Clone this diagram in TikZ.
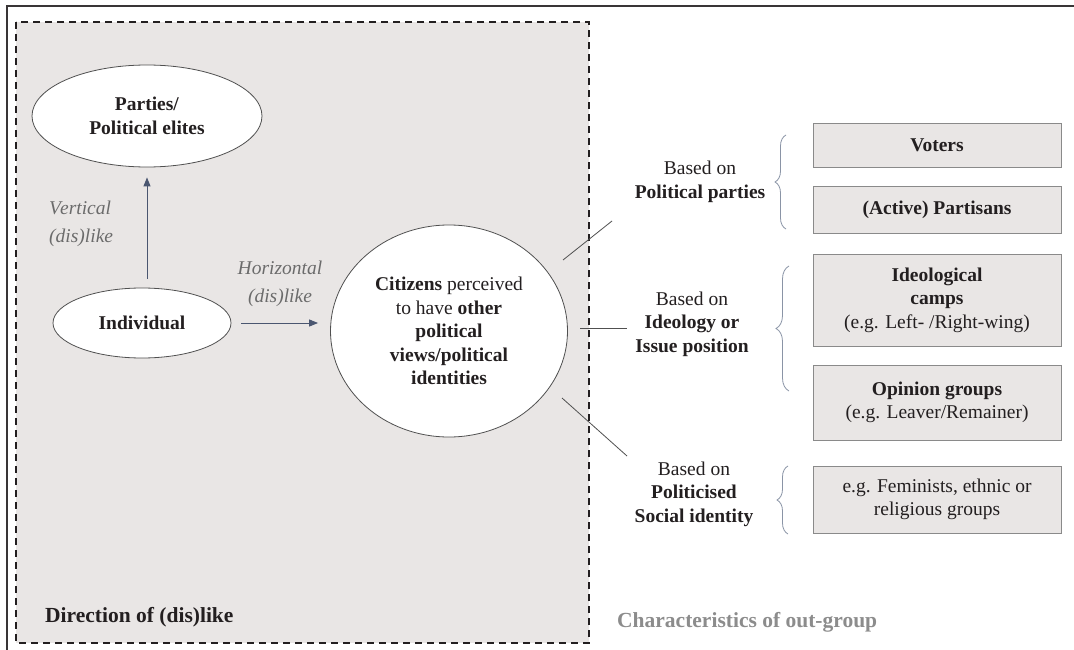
\documentclass[tikz,border=0pt]{standalone}
\usepackage{fontspec}
\setmainfont{Liberation Serif}
\usetikzlibrary{shapes.geometric,decorations.pathreplacing,arrows.meta}
\definecolor{bgray}{HTML}{E9E6E5}
\definecolor{txt}{HTML}{231F20}
\definecolor{arrc}{HTML}{4A5670}
\definecolor{bracec}{HTML}{8A94A6}
\definecolor{linec}{HTML}{505050}
\definecolor{lblgray}{HTML}{6B6B6B}
\definecolor{titlegray}{HTML}{8C8C8C}
\definecolor{boxborder}{HTML}{8A8A8A}
\tikzset{
  base/.style={font=\fontsize{19.5}{23.5}\selectfont, text=txt, align=center, inner sep=0pt},
  oval/.style={base, ellipse, draw=linec, line width=0.8pt, fill=white},
  catbox/.style={base, rectangle, draw=boxborder, line width=0.8pt, fill=bgray, minimum width=248pt},
  arr/.style={draw=arrc, line width=0.9pt, -{Triangle[length=9pt,width=7pt]}},
  conn/.style={draw=linec, line width=0.8pt},
  brc/.style={draw=bracec, line width=0.8pt, decorate, decoration={brace, amplitude=11pt}},
  lbl/.style={base, text=lblgray, font=\fontsize{19.5}{28}\selectfont\itshape},
  title/.style={base, font=\fontsize{21.5}{24}\selectfont\bfseries, anchor=west}
}
\begin{document}
\begin{tikzpicture}[x=1pt,y=-1pt]
\useasboundingbox (0,0) rectangle (1074,650);
\fill[white] (0,0) rectangle (1074,650);
% outer frame (clipped)
\draw[line width=2pt, draw=txt!90] (7,650) -- (7,6) -- (1074,6);
% dashed area
\draw[fill=bgray, draw=txt, line width=1.3pt, dash pattern=on 7pt off 5pt] (16,22) rectangle (589,643);

% nodes left
\node[oval, minimum width=230pt, minimum height=102pt] (parties) at (147,116) {\textbf{Parties/}\\\textbf{Political elites}};
\node[oval, minimum width=178pt, minimum height=70pt] (indiv) at (142,323) {\textbf{Individual}};
\node[oval, minimum width=237pt, minimum height=212pt] (citizens) at (449,331)
  {\textbf{Citizens} perceived\\to have \textbf{other}\\\textbf{political}\\\textbf{views/political}\\\textbf{identities}};

\node[lbl, align=left, anchor=west] (vlab) at (49,224) {V\kern-1pt ertical\\(dis)like};
\node[lbl] (hlab) at (280,284) {Horizontal\\(dis)like};

\draw[arr, shorten <=9pt, shorten >=10pt] (indiv.north -| parties.south) -- (parties.south);
\draw[arr, shorten <=10pt, shorten >=12pt] (indiv.east) -- (indiv.east -| citizens.west);

% labels right
\node[base] (lab1) at (700,182) {Based on\\\textbf{Political parties}};
\node[base] (lab2) at (692,324) {Based on\\\textbf{Ideology or}\\\textbf{Issue position}};
\node[base] (lab3) at (694,494) {Based on\\\textbf{Politicised}\\\textbf{Social identity}};

% connectors
\coordinate (c1a) at (563,260); \coordinate (c1b) at (612,221);
\coordinate (c2a) at (580,328); \coordinate (c2b) at (627,328);
\coordinate (c3a) at (562,398); \coordinate (c3b) at (627,456);
\draw[conn] (c1a) -- (c1b);
\draw[conn] (c2a) -- (c2b);
\draw[conn] (c3a) -- (c3b);

% braces
\coordinate (b1a) at (786,229); \coordinate (b1b) at (786,135);
\coordinate (b2a) at (789,391); \coordinate (b2b) at (789,266);
\coordinate (b3a) at (788,534); \coordinate (b3b) at (788,466);
\draw[brc] (b1a) -- (b1b);
\draw[brc, decoration={brace, amplitude=13pt}] (b2a) -- (b2b);
\draw[brc] (b3a) -- (b3b);

% boxes
\node[catbox, minimum height=44pt] (voters) at (937,145) {\textbf{Voters}};
\node[catbox, minimum height=47pt] (partisans) at (937,209.5) {\textbf{(Active) Partisans}};
\node[catbox, minimum height=92pt] (ideo) at (937,300) {\textbf{Ideological}\\\textbf{camps}\\(e.g. Left- /Right-wing)};
\node[catbox, minimum height=75pt] (opin) at (937,402.5) {\textbf{Opinion groups}\\(e.g. Leaver/Remainer)};
\node[catbox, minimum height=67pt] (femin) at (937,499.5) {e.g. Feminists, ethnic or\\religious groups};

% titles
\node[title] (t1) at (45,617) {Direction of (dis)like};
\node[title, text=titlegray] (t2) at (617,622) {Characteristics of out-group};
\end{tikzpicture}
\end{document}
